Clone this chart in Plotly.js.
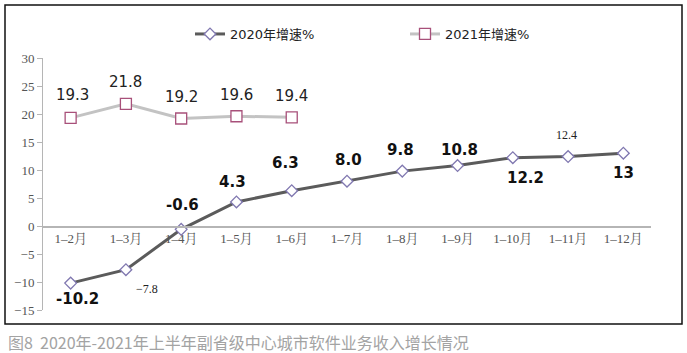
<!DOCTYPE html>
<html>
<head>
<meta charset="utf-8">
<script src="https://cdn.plot.ly/plotly-3.0.1.min.js"></script>
<style>
html,body{margin:0;padding:0;background:#fff;}
#chart{width:687px;height:353px;}
</style>
</head>
<body>
<div id="chart"></div>
<script>
// ---- data ----
const categories = ["1–2月","1–3月","1–4月","1–5月","1–6月","1–7月","1–8月","1–9月","1–10月","1–11月","1–12月"];
const growth2020 = [-10.2, -7.8, -0.6, 4.3, 6.3, 8.0, 9.8, 10.8, 12.2, 12.4, 13];
const labels2020 = ["-10.2", "−7.8", "-0.6", "4.3", "6.3", "8.0", "9.8", "10.8", "12.2", "12.4", "13"];
const growth2021 = [19.3, 21.8, 19.2, 19.6, 19.4];
const labels2021 = ["19.3", "21.8", "19.2", "19.6", "19.4"];
const seriesNames = ["2020年增速%", "2021年增速%"];
const yTicks = [-15, -10, -5, 0, 5, 10, 15, 20, 25, 30];
const caption = "图8\u00a0\u00a02020年-2021年上半年副省级中心城市软件业务收入增长情况";

// ---- styling (label offsets in px, per point) ----
const off2020 = [[7,-16],[21,-19],[1,24],[-4,20],[-6,28],[1,21],[-2,21],[2,16],[13,-20],[-2,22],[0,-20]];
const small2020 = [false,true,false,false,false,false,false,false,false,true,false];
const off2021 = [[2,23],[0,22],[0,21],[0,21],[0,21]];

const W = 687, H = 353;
const M = {l:43, r:36, t:58, b:43};
const pw = W - M.l - M.r, ph = H - M.t - M.b;
const px = x => (x - M.l) / pw;
const py = y => (H - M.b - y) / ph;

const traces = [
  {
    x: categories, y: growth2020, name: seriesNames[0], type: "scatter", mode: "lines+markers",
    line: {color: "#5b5b5b", width: 3},
    marker: {symbol: "diamond", size: 9, color: "#ffffff", line: {color: "#8078b0", width: 1.3}},
    cliponaxis: false
  },
  {
    x: categories.slice(0, growth2021.length), y: growth2021, name: seriesNames[1], type: "scatter", mode: "lines+markers",
    line: {color: "#c3c3c3", width: 3},
    marker: {symbol: "square", size: 11, color: "#ffffff", line: {color: "#a8507a", width: 1.3}},
    cliponaxis: false
  }
];

const annotations = [];
growth2020.forEach((v, i) => {
  const small = small2020[i];
  annotations.push({
    x: categories[i], y: v, xref: "x", yref: "y", text: labels2020[i], showarrow: false,
    xshift: off2020[i][0], yshift: off2020[i][1],
    font: small ? {family: "Liberation Serif, serif", size: 12, color: "#222"}
                : {family: "DejaVu Sans, sans-serif", size: 15, color: "#111", weight: "bold"}
  });
});
growth2021.forEach((v, i) => {
  annotations.push({
    x: categories[i], y: v, xref: "x", yref: "y", text: labels2021[i], showarrow: false,
    xshift: off2021[i][0], yshift: off2021[i][1],
    font: {family: "DejaVu Sans, sans-serif", size: 15, color: "#222"}
  });
});
annotations.push({
  x: px(6), y: py(342), xref: "paper", yref: "paper", xanchor: "left", yanchor: "middle",
  text: caption, showarrow: false,
  font: {family: "Noto Sans CJK SC, sans-serif", size: 16, color: "#a3a3a3"}
});

const layout = {
  width: W, height: H,
  margin: M,
  paper_bgcolor: "#ffffff", plot_bgcolor: "#ffffff",
  showlegend: true,
  legend: {
    orientation: "h", x: px(190), y: py(34), xanchor: "left", yanchor: "middle",
    font: {family: "DejaVu Sans, Noto Sans CJK SC, sans-serif", size: 13, color: "#222"},
    entrywidth: 170, bgcolor: "rgba(0,0,0,0)"
  },
  xaxis: {
    type: "category", range: [-0.5, 10.5], anchor: "free", position: 15/45,
    showline: true, linecolor: "#b5b5b5", linewidth: 1.5,
    ticks: "", showgrid: false, zeroline: false,
    tickfont: {family: "Liberation Serif, Noto Serif CJK SC, serif", size: 13, color: "#555"},
    fixedrange: true
  },
  yaxis: {
    range: [-15, 30], domain: [0, 1], tickvals: yTicks,
    showline: true, linecolor: "#b5b5b5", linewidth: 1,
    ticks: "outside", ticklen: 5, tickcolor: "#b5b5b5",
    showgrid: false, zeroline: false,
    tickfont: {family: "Liberation Serif, serif", size: 13, color: "#555"},
    fixedrange: true
  },
  shapes: [{
    type: "rect", xref: "paper", yref: "paper",
    x0: px(5), x1: px(682), y0: py(324), y1: py(5),
    line: {color: "#111", width: 1.5}, fillcolor: "rgba(0,0,0,0)", layer: "below"
  }],
  annotations: annotations
};

Plotly.newPlot("chart", traces, layout, {displayModeBar: false, staticPlot: true});
</script>
</body>
</html>
